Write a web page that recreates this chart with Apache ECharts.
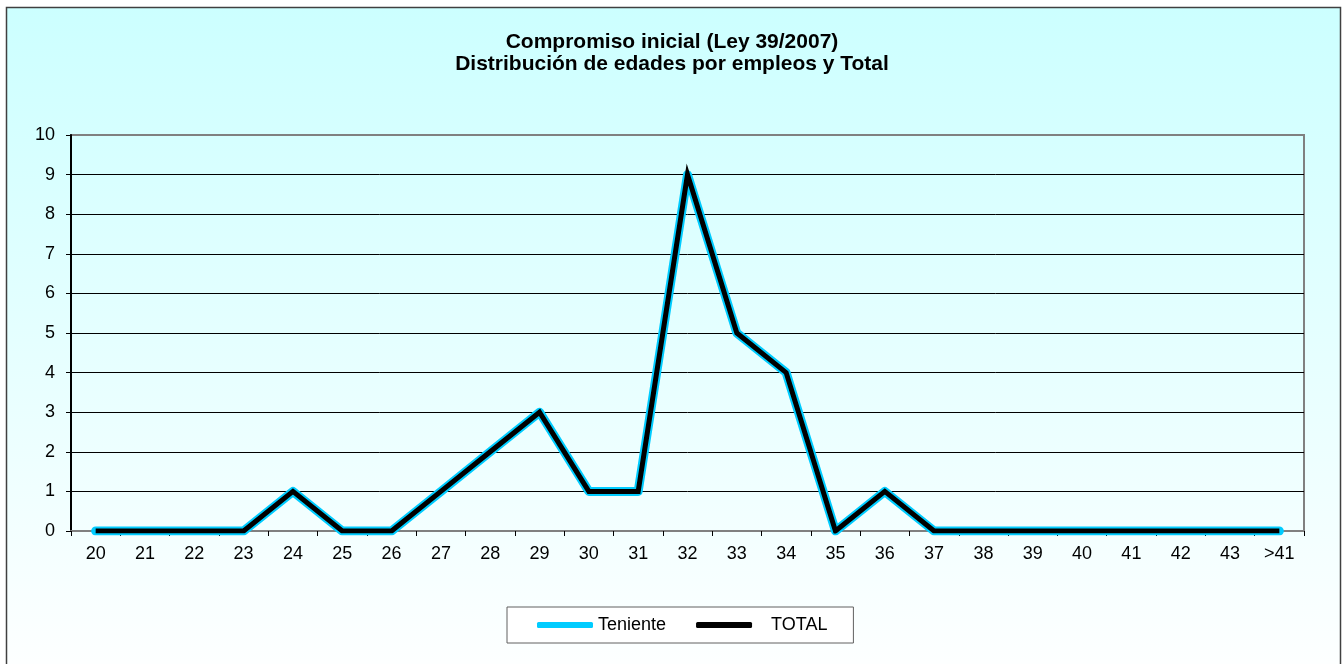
<!DOCTYPE html>
<html>
<head>
<meta charset="utf-8">
<script src="https://cdn.jsdelivr.net/npm/echarts@6/dist/echarts.min.js"></script>
<style>
html,body{margin:0;padding:0;background:#fff;}
#chart{width:1344px;height:664px;}
</style>
</head>
<body>
<div id="chart"></div>
<script>
const titleText = 'Compromiso inicial (Ley 39/2007)\nDistribución de edades por empleos y Total';
const categories = ['20','21','22','23','24','25','26','27','28','29','30','31','32','33','34','35','36','37','38','39','40','41','42','43','>41'];
const tenienteValues = [0,0,0,0,1,0,0,1,2,3,1,1,9,5,4,0,1,0,0,0,0,0,0,0,0];
const totalValues    = [0,0,0,0,1,0,0,1,2,3,1,1,9,5,4,0,1,0,0,0,0,0,0,0,0];
const seriesNames = ['Teniente','TOTAL'];

const font = 'Arial, "Liberation Sans", sans-serif';
const chart = echarts.init(document.getElementById('chart'));
const gridColors = ['#808080','#000','#000','#000','#000','#000','#000','#000','#000','#000','#808080'];
chart.setOption({
  animation: false,
  graphic: [{
    type: 'rect', z: -10, silent: true,
    shape: {x: 6.5, y: 7.5, width: 1334, height: 680},
    style: {
      fill: new echarts.graphic.LinearGradient(0,0,0,1,[{offset:0,color:'#CCFFFF'},{offset:1,color:'#FFFFFF'}]),
      stroke: '#404040', lineWidth: 1.5
    }
  }],
  title: {
    text: titleText, left: 'center', top: 26,
    textStyle: {fontFamily: font, fontSize: 21, fontWeight: 'bold', color: '#000', lineHeight: 22}
  },
  legend: {
    left: 507, top: 607,
    backgroundColor: '#fff', borderColor: '#606060', borderWidth: 1,
    padding: [9, 26, 9, 30],
    itemWidth: 56, itemHeight: 6, itemGap: 30,
    icon: 'roundRect',
    textStyle: {fontFamily: font, fontSize: 18, color: '#000'},
    data: [{name: seriesNames[0]}, {name: seriesNames[1], textStyle: {padding: [0,0,0,14]}}]
  },
  grid: {
    left: 71, top: 135, right: 40, bottom: 133,
    show: true, borderColor: '#808080', borderWidth: 2, backgroundColor: 'transparent'
  },
  xAxis: {
    type: 'category', data: categories, boundaryGap: true,
    axisLine: {lineStyle: {color: '#808080', width: 2}},
    axisTick: {show: true, inside: false, length: 5, lineStyle: {color: '#000'}},
    axisLabel: {fontFamily: font, fontSize: 18, color: '#000', margin: 14, interval: 0}
  },
  yAxis: {
    type: 'value', min: 0, max: 10, interval: 1,
    axisLine: {show: true, lineStyle: {color: '#000', width: 2}},
    axisTick: {show: true, length: 5, lineStyle: {color: '#000'}},
    axisLabel: {fontFamily: font, fontSize: 18, color: '#000', margin: 16},
    splitLine: {show: true, lineStyle: {color: gridColors, width: 1}}
  },
  series: [
    {
      name: seriesNames[0], type: 'line', data: tenienteValues,
      symbol: 'none', color: '#00CCFF',
      lineStyle: {color: '#00CCFF', width: 9, cap: 'round', join: 'round'}, z: 2
    },
    {
      name: seriesNames[1], type: 'line', data: totalValues,
      symbol: 'none', color: '#000',
      lineStyle: {color: '#000', width: 5, cap: 'butt', join: 'miter'}, z: 3
    }
  ]
});
</script>
</body>
</html>
